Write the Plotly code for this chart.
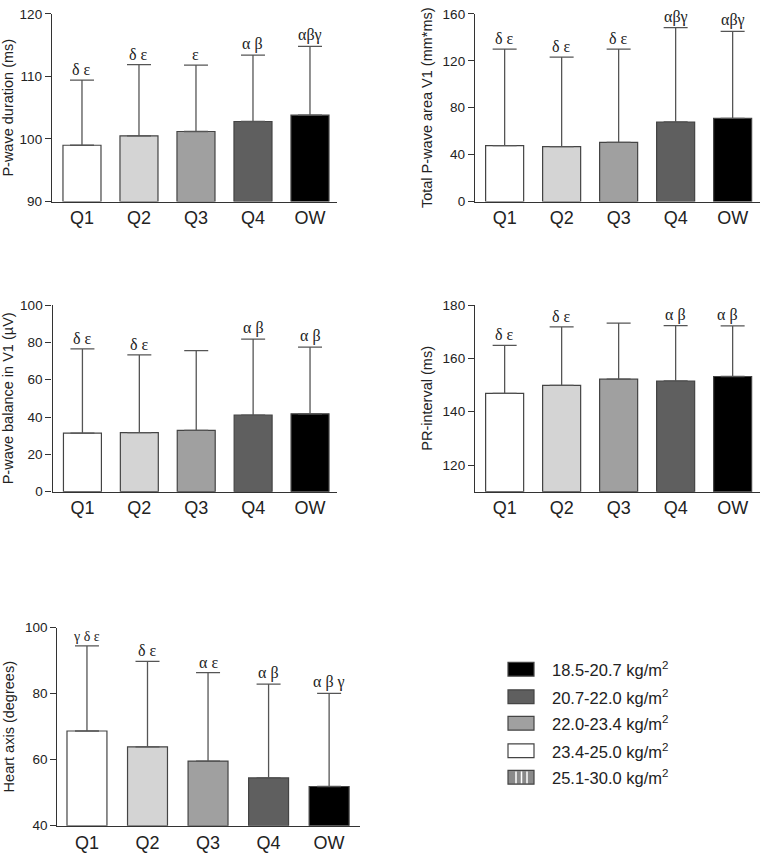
import plotly.graph_objects as go

W, H = 762, 860

categories = ["Q1", "Q2", "Q3", "Q4", "OW"]
bar_colors = ["#ffffff", "#d4d4d4", "#a0a0a0", "#5f5f5f", "#000000"]

# Panel 1: P-wave duration (ms)
pwd_mean = [99.0, 100.5, 101.2, 102.8, 103.8]
pwd_sd = [10.4, 11.4, 10.6, 10.6, 11.0]
pwd_sig = ["δ ε", "δ ε", "ε", "α β", "αβγ"]

# Panel 2: Total P-wave area V1 (mm*ms)
area_mean = [47.6, 46.8, 50.4, 67.8, 70.9]
area_sd = [82.4, 76.4, 79.6, 80.4, 74.1]
area_sig = ["δ ε", "δ ε", "δ ε", "αβγ", "αβγ"]

# Panel 3: P-wave balance in V1 (µV)
bal_mean = [31.4, 31.6, 32.8, 41.0, 41.7]
bal_sd = [45.1, 41.7, 42.8, 40.7, 35.7]
bal_sig = ["δ ε", "δ ε", "", "α β", "α β"]

# Panel 4: PR-interval (ms)
pr_mean = [146.9, 149.9, 152.2, 151.5, 153.2]
pr_sd = [18.0, 21.9, 21.0, 20.8, 19.0]
pr_sig = ["δ ε", "δ ε", "", "α β", "α β"]

# Panel 5: Heart axis (degrees)
ha_mean = [68.7, 63.9, 59.6, 54.5, 51.9]
ha_sd = [25.8, 25.9, 26.8, 28.4, 28.2]
ha_sig = ["γ δ ε", "δ ε", "α ε", "α β", "α β γ"]

legend_labels = ["18.5-20.7 kg/m<sup>2</sup>", "20.7-22.0 kg/m<sup>2</sup>",
                 "22.0-23.4 kg/m<sup>2</sup>", "23.4-25.0 kg/m<sup>2</sup>",
                 "25.1-30.0 kg/m<sup>2</sup>"]
legend_colors = ["#000000", "#5f5f5f", "#a0a0a0", "#ffffff", "#8a8a8a"]

panels = [
    dict(mean=pwd_mean, sd=pwd_sd, sig=pwd_sig, title="P-wave duration (ms)",
         yrange=[90, 120], ticks=[90, 100, 110, 120], px=(52, 337), py=(7, 198),
         xrange=[-0.526, 4.474], width=0.667),
    dict(mean=area_mean, sd=area_sd, sig=area_sig, title="Total P-wave area V1 (mm*ms)",
         yrange=[0, 160], ticks=[0, 40, 80, 120, 160], px=(475, 760), py=(7, 198),
         xrange=[-0.52, 4.48], width=0.667),
    dict(mean=bal_mean, sd=bal_sd, sig=bal_sig, title="P-wave balance in V1 (\u00b5V)",
         yrange=[0, 100], ticks=[0, 20, 40, 60, 80, 100], px=(52.5, 337), py=(303.3, 493.3),
         xrange=[-0.526, 4.474], width=0.667),
    dict(mean=pr_mean, sd=pr_sd, sig=pr_sig, title="PR-interval (ms)",
         yrange=[110, 180], ticks=[120, 140, 160, 180], px=(475, 760), py=(303.3, 493.3),
         xrange=[-0.52, 4.48], width=0.667),
    dict(mean=ha_mean, sd=ha_sd, sig=ha_sig, title="Heart axis (degrees)",
         yrange=[40, 100], ticks=[40, 60, 80, 100], px=(57.3, 360), py=(631.7, 833.3),
         xrange=[-0.49, 4.51], width=0.66),
]

fig = go.Figure()
AXC = "#333333"
layout = dict(width=W, height=H, margin=dict(l=0, r=0, t=0, b=0),
              paper_bgcolor="white", plot_bgcolor="white", showlegend=False,
              font=dict(family="Liberation Sans, Arial, sans-serif", color="#222222"))
annotations = []
shapes = []

for i, p in enumerate(panels):
    n = i + 1
    xa = "x" if n == 1 else f"x{n}"
    ya = "y" if n == 1 else f"y{n}"
    fig.add_trace(go.Bar(
        x=categories, y=[m - p["yrange"][0] for m in p["mean"]], base=p["yrange"][0],
        width=p["width"], xaxis=xa, yaxis=ya,
        marker=dict(color=bar_colors, line=dict(color="#444444", width=1.2)),
        error_y=dict(type="data", array=p["sd"], arrayminus=[0] * 5, symmetric=False,
                     color="#555555", thickness=1.3, width=12),
        hoverinfo="skip"))
    xkey = "xaxis" if n == 1 else f"xaxis{n}"
    ykey = "yaxis" if n == 1 else f"yaxis{n}"
    layout[xkey] = dict(domain=[p["px"][0] / W, p["px"][1] / W], anchor=ya,
                        range=p["xrange"], showline=True, linecolor=AXC, linewidth=1.3,
                        ticks="", showgrid=False, zeroline=False,
                        tickfont=dict(size=18, color="#222222"), fixedrange=True)
    layout[ykey] = dict(domain=[1 - p["py"][1] / H, 1 - p["py"][0] / H], anchor=xa,
                        range=p["yrange"], tickvals=p["ticks"], showline=True,
                        linecolor=AXC, linewidth=1.3, ticks="outside", ticklen=6,
                        tickcolor=AXC, tickwidth=1.3, showgrid=False, zeroline=False,
                        tickfont=dict(size=13.5, color="#222222"),
                        title=dict(text=p["title"], font=dict(size=14.5, color="#222222"),
                                   standoff=6), fixedrange=True)
    for j, c in enumerate(categories):
        if not p["sig"][j]:
            continue
        annotations.append(dict(
            x=c, y=p["mean"][j] + p["sd"][j], xref=xa, yref=ya, text=p["sig"][j],
            showarrow=False, yanchor="bottom", yshift=0,
            xshift=(-5 if (n == 4 and j == 4) else 0),
            font=dict(family="Liberation Serif, Times New Roman, serif",
                      size=(14 if (n == 5 and j == 0) else 16), color="#222222")))

# Legend (drawn as boxes + labels)
row_y = [674, 702, 729, 757, 784]
bx0, bx1 = 508, 534
for k, lab in enumerate(legend_labels):
    yc = row_y[k]
    shapes.append(dict(type="rect", xref="paper", yref="paper",
                       x0=bx0 / W, x1=bx1 / W, y0=1 - (yc + 7) / H, y1=1 - (yc - 7) / H,
                       fillcolor=legend_colors[k], line=dict(color="#444444", width=1.2)))
    if k == 4:
        for sx in [516, 521.5, 527]:
            shapes.append(dict(type="line", xref="paper", yref="paper",
                               x0=sx / W, x1=sx / W, y0=1 - (yc + 6) / H, y1=1 - (yc - 6) / H,
                               line=dict(color="white", width=1.5)))
    annotations.append(dict(x=550 / W, y=1 - yc / H, xref="paper", yref="paper",
                            text=lab, showarrow=False, xanchor="left", yanchor="middle",
                            font=dict(size=16.5, color="#222222")))

layout["annotations"] = annotations
layout["shapes"] = shapes
fig.update_layout(**layout)
fig.write_html("out.html", config={"displayModeBar": False},
               post_script="document.body.style.margin='0px';document.body.style.overflow='hidden';")
